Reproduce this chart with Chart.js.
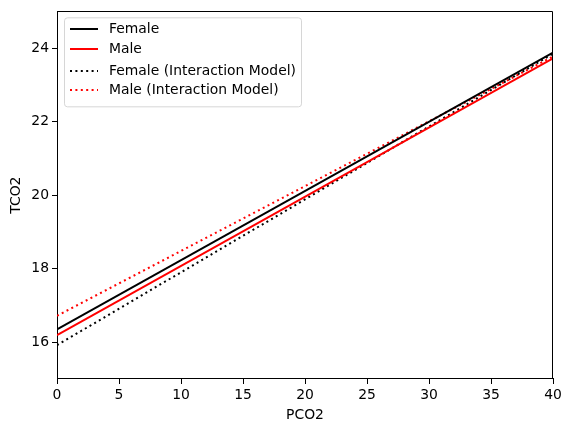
<!DOCTYPE html>
<html>
<head>
<meta charset="utf-8">
<script src="https://cdn.jsdelivr.net/npm/chart.js@4.4.0/dist/chart.umd.min.js"></script>
<style>
  html, body { margin: 0; padding: 0; background: #fff; }
  canvas { display: block; }
</style>
</head>
<body>
<canvas id="TcoChart" width="571" height="432"></canvas>
<script>
const pco2_x = [0, 40];
const female = [16.35, 23.88];
const male = [16.19, 23.72];
const female_inter = [15.92, 23.85];
const male_inter = [16.72, 23.77];
const x_ticks = [0, 5, 10, 15, 20, 25, 30, 35, 40];
const y_ticks = [16, 18, 20, 22, 24];

const series_labels = [
    'Female',
    'Male',
    'Female (Interaction Model)',
    'Male (Interaction Model)'
];

function toPoints(ys) {
    return pco2_x.map((x, i) => ({ x: x, y: ys[i] }));
}

const font = { family: 'DejaVu Sans', size: 13.9 };

const line_data = {
    datasets: [{
        label: series_labels[0],
        data: toPoints(female),
        borderColor: '#000000',
        borderWidth: 2,
    }, {
        label: series_labels[1],
        data: toPoints(male),
        borderColor: '#ff0000',
        borderWidth: 2,
    }, {
        label: series_labels[2],
        data: toPoints(female_inter),
        borderColor: '#000000',
        borderWidth: 2,
        borderDash: [2, 3.4],
    }, {
        label: series_labels[3],
        data: toPoints(male_inter),
        borderColor: '#ff0000',
        borderWidth: 2,
        borderDash: [2, 3.4],
    }]
};

// top and right edges of the plot box plus a matplotlib style legend
const framePlugin = {
    id: 'frame',
    afterDraw(chart) {
        const ctx = chart.ctx;
        const a = chart.chartArea;
        ctx.save();
        ctx.strokeStyle = '#000';
        ctx.lineWidth = 1;
        ctx.beginPath();
        ctx.moveTo(Math.round(a.left), Math.round(a.top) + 0.5);
        ctx.lineTo(Math.round(a.right) - 0.5, Math.round(a.top) + 0.5);
        ctx.lineTo(Math.round(a.right) - 0.5, Math.round(a.bottom));
        ctx.stroke();

        const bx = a.left + 7, by = a.top + 6, bw = 237, bh = 89;
        ctx.beginPath();
        ctx.roundRect(bx + 0.5, by + 0.5, bw, bh, 3);
        ctx.fillStyle = 'rgba(255,255,255,0.8)';
        ctx.fill();
        ctx.strokeStyle = '#d6d6d6';
        ctx.stroke();

        const rows = [29, 49, 71, 90];
        ctx.font = '13.9px "DejaVu Sans"';
        ctx.textBaseline = 'middle';
        chart.data.datasets.forEach((ds, i) => {
            ctx.beginPath();
            ctx.strokeStyle = ds.borderColor;
            ctx.lineWidth = 2;
            ctx.setLineDash(ds.borderDash || []);
            ctx.moveTo(70, rows[i]);
            ctx.lineTo(98, rows[i]);
            ctx.stroke();
            ctx.setLineDash([]);
            ctx.fillStyle = '#000';
            ctx.fillText(ds.label, 109, rows[i]);
        });
        ctx.restore();
    }
};

const configLine = {
    type: 'scatter',
    data: line_data,
    options: {
        responsive: false,
        animation: false,
        showLine: true,
        elements: { point: { radius: 0 }, line: { tension: 0 } },
        layout: { padding: { left: 0, right: 18, top: 10, bottom: 0 } },
        plugins: {
            legend: { display: false },
            tooltip: { enabled: false }
        },
        scales: {
            x: {
                type: 'linear',
                min: 0,
                max: 40,
                afterBuildTicks: (scale) => { scale.ticks = x_ticks.map(v => ({ value: v })); },
                afterFit: (scale) => { scale.height = 53; },
                ticks: { color: '#000', font: font, padding: 3, maxRotation: 0 },
                grid: { drawOnChartArea: false, color: '#000', tickLength: 5 },
                border: { color: '#000' },
                title: { display: true, text: 'PCO2', color: '#000', font: font, padding: { top: 4, bottom: 8 } }
            },
            y: {
                type: 'linear',
                min: 15,
                max: 25,
                afterBuildTicks: (scale) => { scale.ticks = y_ticks.map(v => ({ value: v })); },
                afterFit: (scale) => { scale.width = 57; },
                ticks: { color: '#000', font: font, padding: 3 },
                grid: { drawOnChartArea: false, color: '#000', tickLength: 5 },
                border: { color: '#000' },
                title: { display: true, text: 'TCO2', color: '#000', font: font, padding: { top: 8, bottom: 4 } }
            }
        }
    },
    plugins: [framePlugin]
};

const TcoChart = new Chart(
    document.getElementById('TcoChart'),
    configLine
);
</script>
</body>
</html>
